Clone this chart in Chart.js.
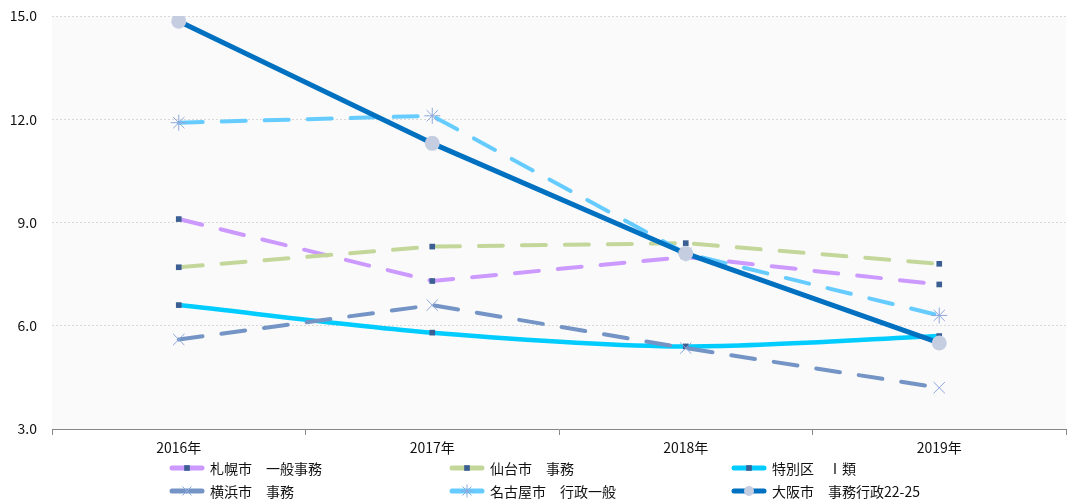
<!DOCTYPE html>
<html>
<head>
<meta charset="utf-8">
<script src="https://cdn.jsdelivr.net/npm/chart.js@4.4.1/dist/chart.umd.min.js"></script>
<style>
  html, body { margin: 0; padding: 0; background: #fff; }
  #wrap { position: relative; width: 1081px; height: 503px; font-family: "Noto Sans CJK JP", "Noto Sans", sans-serif; }
  #chart { position: absolute; left: 0; top: 0; }
  .lg { position: absolute; display: flex; align-items: center; font-size: 14px; color: #111; white-space: pre; }
  .lg canvas { margin-right: 4px; }
</style>
</head>
<body>
<div id="wrap">
  <canvas id="chart" width="1081" height="503"></canvas>
</div>
<script>
const years = ["2016年", "2017年", "2018年", "2019年"];
const sapporo = [9.1, 7.3, 8.0, 7.2];
const sendai = [7.7, 8.3, 8.4, 7.8];
const tokubetsu = [6.6, 5.8, 5.4, 5.7];
const yokohama = [5.6, 6.6, 5.35, 4.2];
const nagoya = [11.9, 12.1, 8.1, 6.3];
const osaka = [14.85, 11.3, 8.1, 5.5];
const yTicks = [3, 6, 9, 12, 15];

const dashed = [24, 19];
const series = [
  { label: "札幌市　一般事務", data: sapporo, color: "#cc99ff", dash: dashed, width: 4, point: "rect", pointColor: "#3c5f93", radius: 4, tension: 0, order: 6 },
  { label: "仙台市　事務", data: sendai, color: "#c4d79b", dash: dashed, width: 4, point: "rect", pointColor: "#3c5f93", radius: 4, tension: 0, order: 5 },
  { label: "特別区　Ⅰ類", data: tokubetsu, color: "#00ccff", dash: [], width: 4.5, point: "rect", pointColor: "#3c5f93", radius: 4, tension: 0.3, order: 4 },
  { label: "横浜市　事務", data: yokohama, color: "#7394c4", dash: dashed, width: 4, point: "crossRot", pointColor: "#8ea9db", radius: 8, tension: 0, order: 3 },
  { label: "名古屋市　行政一般", data: nagoya, color: "#66ccff", dash: dashed, width: 4, point: "star", pointColor: "#8ea9db", radius: 8, tension: 0, order: 2 },
  { label: "大阪市　事務行政22-25", data: osaka, color: "#0070c0", dash: [], width: 5, point: "circle", pointColor: "#c5cde0", radius: 7.5, tension: 0, order: 1 },
];

const plotBg = {
  id: "plotBg",
  beforeDraw(chart) {
    const { ctx, chartArea: a } = chart;
    ctx.save();
    ctx.fillStyle = "#fafafa";
    ctx.fillRect(a.left, a.top, a.right - a.left, a.bottom - a.top);
    ctx.restore();
  },
};

new Chart(document.getElementById("chart"), {
  type: "line",
  data: {
    labels: years,
    datasets: series.map((s) => ({
      label: s.label,
      data: s.data,
      borderColor: s.color,
      borderWidth: s.width,
      borderDash: s.dash,
      borderCapStyle: "round",
      borderJoinStyle: "round",
      tension: s.tension,
      pointStyle: s.point,
      pointRadius: s.radius,
      pointBackgroundColor: s.pointColor,
      pointBorderColor: s.pointColor,
      pointBorderWidth: s.point === "crossRot" || s.point === "star" ? 1 : 0,
      fill: false,
      order: s.order,
    })),
  },
  options: {
    responsive: false,
    animation: false,
    layout: { padding: { left: 0, right: 15, top: 16, bottom: 44 } },
    plugins: { legend: { display: false }, tooltip: { enabled: false } },
    scales: {
      x: {
        offset: true,
        afterFit: (axis) => { axis.height = 30; axis.paddingLeft = 0; axis.paddingRight = 0; },
        grid: { display: true, drawOnChartArea: false, drawTicks: true, tickLength: 6, color: "#888", offset: true },
        border: { display: true, color: "#888", width: 1 },
        ticks: { color: "#111", font: { family: "Noto Sans CJK JP", size: 14 }, padding: 4 },
      },
      y: {
        min: 3,
        max: 15,
        afterFit: (axis) => { axis.width = 52; axis.paddingTop = 0; axis.paddingBottom = 0; },
        afterBuildTicks: (axis) => { axis.ticks = yTicks.map((v) => ({ value: v })); },
        grid: { color: "#d9d9d9", drawTicks: false, lineWidth: 1 },
        border: { display: false, dash: [2, 2] },
        ticks: { color: "#111", padding: 15, font: { family: "Noto Sans CJK JP", size: 14 }, callback: (v) => Number(v).toFixed(1) },
      },
    },
  },
  plugins: [plotBg],
});

// legend, 3 columns x 2 rows
const legendCols = [168, 448, 730];
const legendRows = [468, 491];
const wrap = document.getElementById("wrap");
series.forEach((s, i) => {
  const item = document.createElement("div");
  item.className = "lg";
  item.style.left = legendCols[i % 3] + "px";
  item.style.top = (legendRows[Math.floor(i / 3)] - 10) + "px";
  const c = document.createElement("canvas");
  c.width = 38;
  c.height = 20;
  const ctx = c.getContext("2d");
  ctx.strokeStyle = s.color;
  ctx.lineWidth = 5;
  ctx.lineCap = "round";
  ctx.beginPath();
  ctx.moveTo(4, 10);
  ctx.lineTo(34, 10);
  ctx.stroke();
  ctx.fillStyle = s.pointColor;
  ctx.strokeStyle = s.pointColor;
  ctx.lineWidth = 1;
  Chart.helpers.drawPoint(ctx, {
    pointStyle: s.point,
    radius: s.point === "circle" ? 5 : (s.point === "rect" ? 4 : 6),
    rotation: 0,
    borderWidth: s.point === "rect" || s.point === "circle" ? 0 : 1,
  }, 19, 10);
  item.appendChild(c);
  const t = document.createElement("span");
  t.textContent = s.label;
  item.appendChild(t);
  wrap.appendChild(item);
});
</script>
</body>
</html>
